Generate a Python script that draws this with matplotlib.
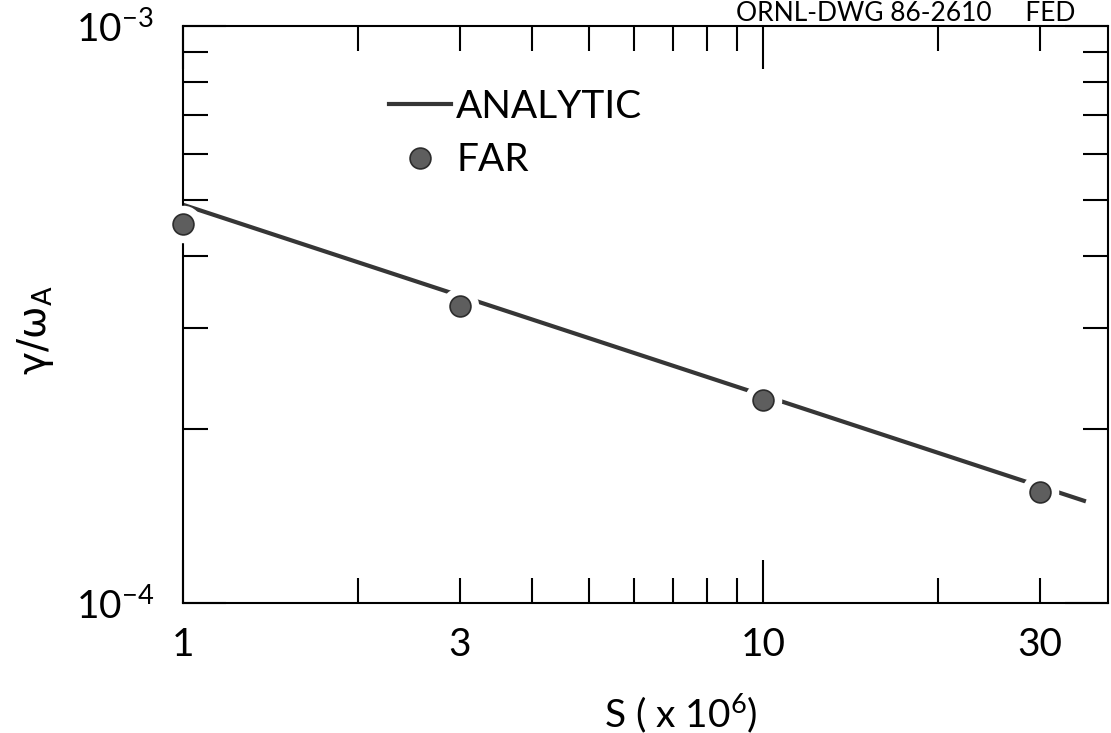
import matplotlib
matplotlib.use("Agg")
import matplotlib.pyplot as plt
from matplotlib.lines import Line2D
from matplotlib.ticker import FixedLocator, FixedFormatter, NullFormatter

# Lundquist number S (x 10^6) and growth rate gamma / omega_A
S_far = [1, 3, 10, 30]
gamma_far = [4.53e-4, 3.27e-4, 2.25e-4, 1.556e-4]

# analytic scaling (straight on log-log axes): endpoints of the curve
S_analytic = [1, 36]
gamma_analytic = [4.9e-4, 1.5e-4]

x_major = [1, 10]
x_major_labels = ["1", "10"]
x_minor = [2, 3, 4, 5, 6, 7, 8, 9, 20, 30]
x_minor_labels = ["", "3", "", "", "", "", "", "", "", "30"]
y_major = [1e-4, 1e-3]
y_major_labels = [r"$10^{-4}$", r"$10^{-3}$"]
y_minor = [2e-4, 3e-4, 4e-4, 5e-4, 6e-4, 7e-4, 8e-4, 9e-4]

plt.rcParams["font.family"] = ["Lato", "DejaVu Sans"]
plt.rcParams["font.weight"] = "normal"
plt.rcParams["mathtext.fontset"] = "custom"
plt.rcParams["mathtext.rm"] = "Lato"
plt.rcParams["mathtext.it"] = "Lato:italic"
plt.rcParams["mathtext.sf"] = "Lato"
plt.rcParams["mathtext.bf"] = "Lato:bold"

FS = 28
W, H = 1111, 733
fig = plt.figure(figsize=(W / 100, H / 100), dpi=100)
fig.patch.set_facecolor("white")
ax = fig.add_axes([183 / W, (H - 603) / H, 925 / W, 577 / H])
ax.set_xscale("log")
ax.set_yscale("log")
ax.set_xlim(1, 39.3)
ax.set_ylim(1e-4, 1e-3)

line_color = "#363636"
dot_face = "#5e5e5e"
dot_edge = "#2c2c2c"

ax.plot(S_analytic, gamma_analytic, color=line_color, lw=3.0,
        solid_capstyle="butt", zorder=2)
# white halo breaks the line (and the frame) around each dot
ax.plot(S_far, gamma_far, "o", ms=27, mfc="white", mec="none",
        zorder=3, clip_on=False)
ax.plot(S_far, gamma_far, "o", ms=15, mfc=dot_face, mec=dot_edge,
        mew=1.2, zorder=4, clip_on=False)

for s in ax.spines.values():
    s.set_linewidth(1.5)
    s.set_zorder(2.5)

ax.xaxis.set_major_locator(FixedLocator(x_major))
ax.xaxis.set_major_formatter(FixedFormatter(x_major_labels))
ax.xaxis.set_minor_locator(FixedLocator(x_minor))
ax.xaxis.set_minor_formatter(FixedFormatter(x_minor_labels))
ax.yaxis.set_major_locator(FixedLocator(y_major))
ax.yaxis.set_major_formatter(FixedFormatter(y_major_labels))
ax.yaxis.set_minor_locator(FixedLocator(y_minor))
ax.yaxis.set_minor_formatter(NullFormatter())

ax.tick_params(which="both", direction="in", top=True, right=True,
               width=1.5, labelsize=FS)
ax.tick_params(which="major", length=31)
ax.tick_params(which="minor", length=18)
ax.tick_params(axis="x", which="both", pad=17)
ax.tick_params(axis="y", which="both", pad=21)

handles = [
    Line2D([], [], color=line_color, lw=3.0),
    Line2D([], [], ls="none", marker="o", ms=15, mfc=dot_face,
           mec=dot_edge, mew=1.2),
]
ax.legend(handles, ["ANALYTIC", "FAR"], loc="upper left",
          bbox_to_anchor=(0.2227, 0.891), frameon=False, fontsize=FS,
          handlelength=1.6, handletextpad=0.13, labelspacing=0.45,
          borderpad=0, borderaxespad=0)

fig.text(681 / W, (H - 713) / H, r"S ( x 10$^{6}$)", ha="center",
         va="center", fontsize=FS)
fig.text(35 / W, (H - 330) / H, r"$\mathrm{\gamma/\omega_A}$",
         rotation=90, ha="center", va="center", fontsize=FS,
         math_fontfamily="dejavusans")
fig.text(1075 / W, 1 - 21 / H, "ORNL-DWG 86-2610     FED", ha="right",
         va="baseline", fontsize=19)

fig.savefig("out.png", dpi=100, facecolor="white")
